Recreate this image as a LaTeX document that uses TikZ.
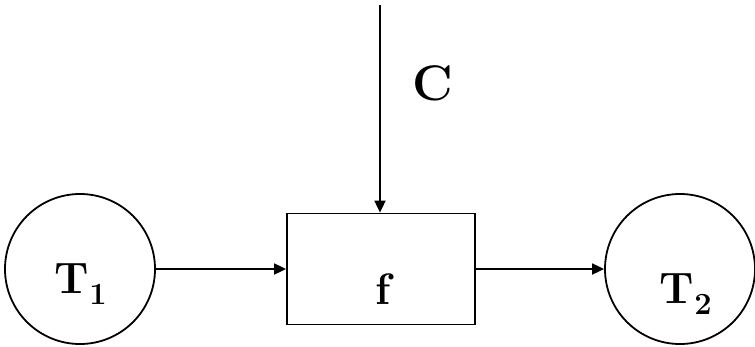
\documentclass[tikz,border=0pt]{standalone}
\usetikzlibrary{arrows.meta}

\tikzset{
  place/.style={draw, circle, minimum size=150pt, inner sep=0pt, line width=1.8pt},
  trans/.style={draw, rectangle, minimum width=188pt, minimum height=111pt, inner sep=0pt, line width=1.8pt},
  lbl/.style={inner sep=0pt, font=\fontsize{44}{48}\bfseries},
}

\begin{document}
\begin{tikzpicture}[x=1pt, y=-1pt, line width=1.8pt, >={Triangle[length=12pt, width=11pt]}]
  \useasboundingbox (0,0) rectangle (755,346);

  % ================= 库所与变迁 =================
  \node[place] (t1) at (80,269) {};
  \node[trans] (f) at (381,269) {};
  \node[place] (t2) at (680,269) {};
  \coordinate (top) at (380,5);

  % 标签
  \node[lbl] (t1lbl) at (81,284) {T\textsubscript{1}};
  \node[lbl] (flbl) at (383,289) {f};
  \node[lbl] (t2lbl) at (686,294) {T\textsubscript{2}};
  \node[lbl, font=\fontsize{50}{54}\bfseries] (clbl) at (433,83) {C};

  % ================= 连接弧 =================
  \draw[->] (top) -- (top |- f.north);
  \draw[->] (t1.east) -- (f.west);
  \draw[->] (f.east) -- (t2.west);

\end{tikzpicture}
\end{document}
